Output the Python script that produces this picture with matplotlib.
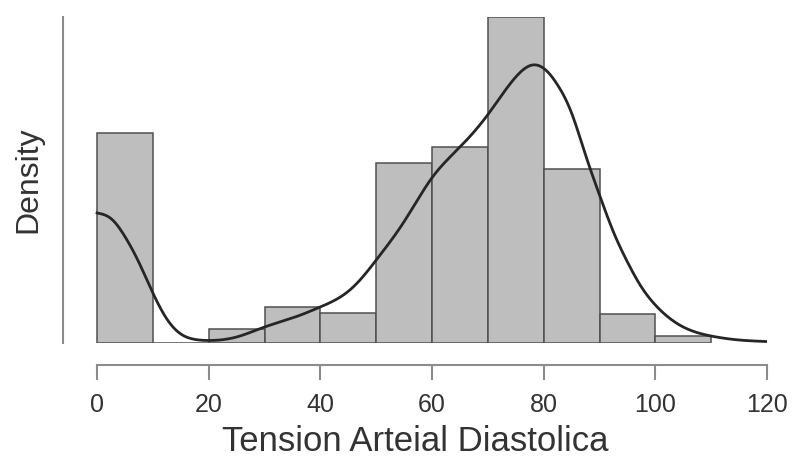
import numpy as np
import matplotlib
matplotlib.use("Agg")
import matplotlib.pyplot as plt

plt.rcParams["font.family"] = ["Liberation Sans", "DejaVu Sans"]

# histogram bins (width 10) and density heights
bin_edges = [0, 10, 20, 30, 40, 50, 60, 70, 80, 90, 100, 110]
bin_density = [0.01747, 0.0, 0.00116, 0.00300, 0.00250, 0.01498,
               0.01631, 0.02712, 0.01448, 0.00241, 0.00058]

# kernel density curve, sampled points
kde_x = [0, 2.5, 5, 7.5, 10, 12.5, 15, 17.5, 20, 25, 30, 35, 40, 45, 47.5,
         50, 55, 60, 65, 70, 75, 78, 80, 82.5, 85, 87.5, 90, 92.5, 95, 97.5,
         100, 105, 110, 115, 120]
kde_y = [0.01082, 0.01035, 0.00885, 0.00670, 0.00416, 0.00200, 0.00075,
         0.00030, 0.00021, 0.00050, 0.00133, 0.00208, 0.00300, 0.00430,
         0.00545, 0.00690, 0.01010, 0.01375, 0.01630, 0.01900, 0.02213,
         0.02313, 0.02285, 0.02146, 0.01913, 0.01564, 0.01231, 0.00923,
         0.00674, 0.00466, 0.00316, 0.00133, 0.00058, 0.00025, 0.00012]

x_ticks = [0, 20, 40, 60, 80, 100, 120]


def smooth(xs, ys, n=600):
    # natural cubic spline through the sampled points
    xs = np.asarray(xs, float)
    ys = np.asarray(ys, float)
    k = len(xs)
    h = np.diff(xs)
    A = np.zeros((k, k))
    r = np.zeros(k)
    A[0, 0] = A[-1, -1] = 1
    for j in range(1, k - 1):
        A[j, j - 1] = h[j - 1]
        A[j, j] = 2 * (h[j - 1] + h[j])
        A[j, j + 1] = h[j]
        r[j] = 6 * ((ys[j + 1] - ys[j]) / h[j] - (ys[j] - ys[j - 1]) / h[j - 1])
    M = np.linalg.solve(A, r)
    xx = np.linspace(xs[0], xs[-1], n)
    i = np.clip(np.searchsorted(xs, xx) - 1, 0, k - 2)
    a = xs[i + 1] - xx
    b = xx - xs[i]
    hi = h[i]
    yy = (M[i] * a**3 + M[i + 1] * b**3) / (6 * hi) \
        + (ys[i] / hi - M[i] * hi / 6) * a + (ys[i + 1] / hi - M[i + 1] * hi / 6) * b
    return xx, np.clip(yy, 0, None)


W, H = 793, 466
fig = plt.figure(figsize=(W / 100, H / 100), dpi=100)
ax = fig.add_axes([63 / W, (H - 343) / H, (767 - 63) / W, (343 - 17) / H])

ax.bar(bin_edges[:-1], bin_density, width=10, align="edge",
       color="#bebebe", edgecolor="#505050", linewidth=1.1, zorder=2)
cx, cy = smooth(kde_x, kde_y)
ax.plot(cx, cy, color="#262626", linewidth=2.0, zorder=3)

ax.set_xlim(-6.1, 120)
ax.set_ylim(0, max(bin_density))

for s in ["top", "right"]:
    ax.spines[s].set_visible(False)
ax.spines["left"].set_color("#8c8c8c")
ax.spines["left"].set_linewidth(1.5)
ax.spines["bottom"].set_color("#8c8c8c")
ax.spines["bottom"].set_linewidth(1.5)
ax.spines["bottom"].set_position(("outward", 15.5))
ax.spines["bottom"].set_bounds(0, 120)

ax.set_yticks([])
ax.set_xticks(x_ticks)
ax.tick_params(axis="x", length=10.5, width=1.5, color="#8c8c8c",
               labelsize=18, labelcolor="#333333", pad=10)

ax.set_xlabel("Tension Arteial Diastolica", fontsize=25, color="#333333",
              labelpad=6)
ax.set_ylabel("Density", fontsize=23, color="#333333", labelpad=14)

fig.savefig("out.png", dpi=100)
